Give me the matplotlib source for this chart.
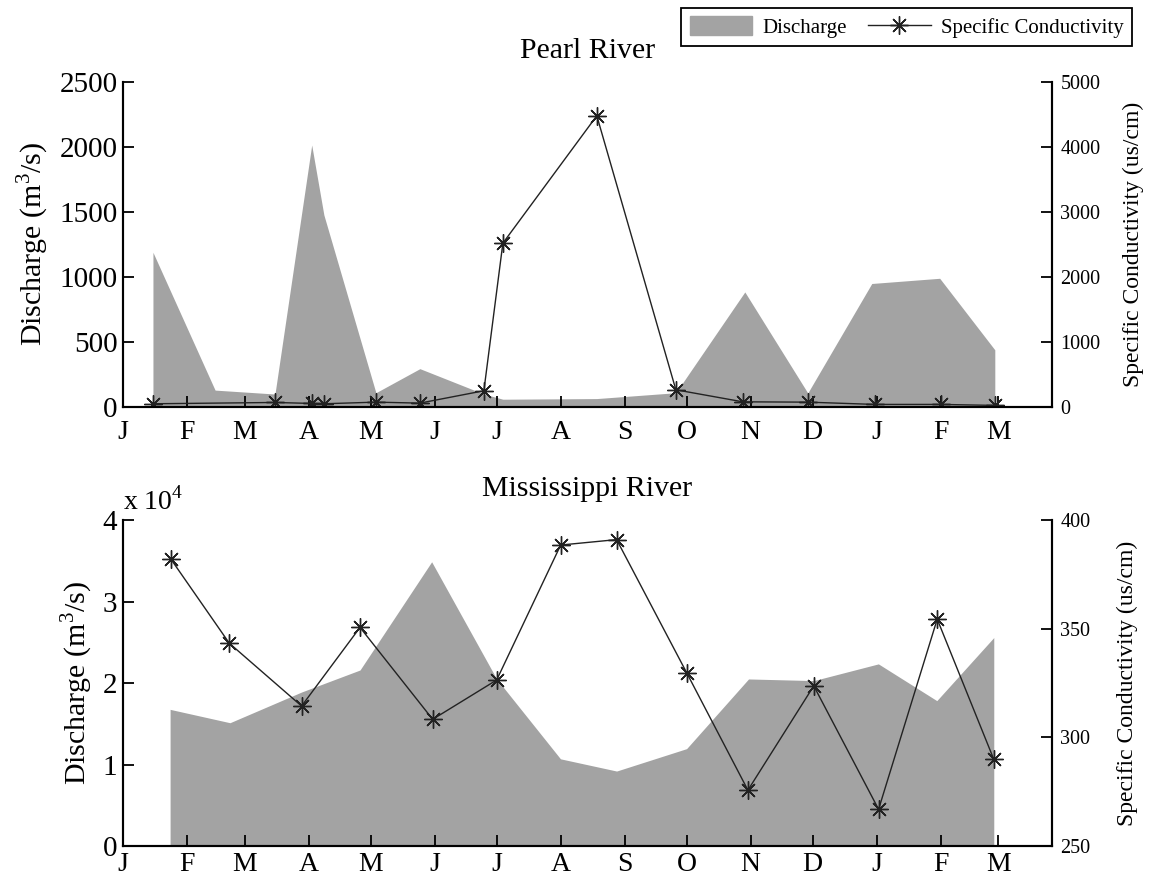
import matplotlib
matplotlib.use('Agg')
import matplotlib.pyplot as plt
import matplotlib.patches as mpatches
from matplotlib.lines import Line2D

plt.rcParams['font.family'] = 'Liberation Serif'
plt.rcParams['mathtext.fontset'] = 'custom'
plt.rcParams['mathtext.rm'] = 'Liberation Serif'

# month start positions (days from 1 Jan) and labels
month_days = [0, 31, 59, 90, 120, 151, 181, 212, 243, 273, 304, 334, 365, 396, 424]
month_labels = ['J', 'F', 'M', 'A', 'M', 'J', 'J', 'A', 'S', 'O', 'N', 'D', 'J', 'F', 'M']

# Pearl River
pearl_q_days = [14.5, 44.6, 73.6, 91.4, 97.3, 122.5, 143.8, 174.8, 184, 229.5, 267.8,
                301.2, 331.7, 362.7, 395.6, 422.3]
pearl_q = [1190, 130, 100, 2015, 1477, 110, 295, 100, 60, 65, 110,
           885, 108, 950, 990, 440]
pearl_sc_days = [14.5, 73.6, 91.4, 97.3, 122.5, 143.8, 174.8, 184, 229.5, 267.8,
                 300.2, 331.7, 364.2, 396.1, 422.3]
pearl_sc = [50, 70, 55, 50, 75, 60, 250, 2520, 4480, 265, 80, 75, 40, 40, 25]

# Mississippi River
miss_q_days = [22.8, 51.8, 86.5, 114.8, 149.5, 181, 211.9, 239.1, 273, 303, 334.6,
               365.9, 394.2, 421.8]
miss_q = [16770, 15130, 18900, 21600, 34880, 20500, 10700, 9200, 11950, 20500, 20300,
          22350, 17840, 25580]
miss_sc_days = [23.2, 51.5, 86.5, 114.8, 150, 181, 212, 239.1, 273, 302.7, 334.6,
                366, 394.4, 421.8]
miss_sc = [382, 343.3, 314.4, 350.6, 308.3, 326.4, 388.5, 391, 329.8, 275.7, 323.7,
           266.9, 354.4, 289.9]

fill_color = '#a3a3a3'
line_color = '#222222'
star = (8, 2, 0)

fig = plt.figure(figsize=(11.53, 8.81), dpi=100)
ax1 = fig.add_axes([0.1067, 0.538, 0.8057, 0.369])
ax2 = fig.add_axes([0.1067, 0.0397, 0.8057, 0.370])


def style_axes(ax, axr, xpad):
    ax.set_xlim(0, 450)
    ax.set_xticks(month_days)
    ax.set_xticklabels(month_labels)
    for a in (ax, axr):
        a.spines['top'].set_visible(False)
        for s in a.spines.values():
            s.set_linewidth(1.5)
    ax.tick_params(axis='both', direction='in', length=8, width=1.3,
                   labelsize=21, pad=4)
    ax.tick_params(axis='x', pad=xpad, labelsize=20)
    axr.tick_params(axis='y', direction='in', length=8, width=1.3,
                    labelsize=14.5, pad=6)


# top panel
ax1.fill_between(pearl_q_days, pearl_q, 0, color=fill_color, lw=0)
ax1.set_ylim(0, 2500)
ax1.set_yticks(range(0, 2501, 500))
ax1.set_ylabel('Discharge (m$^3$/s)', fontsize=21.5, labelpad=6)
ax1.set_title('Pearl River', fontsize=21.5, pad=17)
ax1r = ax1.twinx()
ax1r.plot(pearl_sc_days, pearl_sc, color=line_color, lw=1.0, marker=star,
          ms=13, mew=1.0, mec=line_color)
ax1r.set_ylim(0, 5000)
ax1r.set_yticks(range(0, 5001, 1000))
ax1r.set_ylabel('Specific Conductivity (us/cm)', fontsize=17, labelpad=16)
style_axes(ax1, ax1r, 9)

# bottom panel
ax2.fill_between(miss_q_days, miss_q, 0, color=fill_color, lw=0)
ax2.set_ylim(0, 40000)
ax2.set_yticks([0, 10000, 20000, 30000, 40000])
ax2.set_yticklabels(['0', '1', '2', '3', '4'])
ax2.set_ylabel('Discharge (m$^3$/s)', fontsize=21.5, labelpad=6)
ax2.set_title('Mississippi River', fontsize=21.5, pad=17)
ax2.text(0.0, 1.015, 'x 10$^4$', transform=ax2.transAxes, fontsize=20,
         ha='left', va='bottom')
ax2r = ax2.twinx()
ax2r.plot(miss_sc_days, miss_sc, color=line_color, lw=1.0, marker=star,
          ms=13, mew=1.0, mec=line_color)
ax2r.set_ylim(250, 400)
ax2r.set_yticks([250, 300, 350, 400])
ax2r.set_ylabel('Specific Conductivity (us/cm)', fontsize=17, labelpad=19)
style_axes(ax2, ax2r, 4)

# shared legend
handles = [mpatches.Patch(color=fill_color, label='Discharge'),
           Line2D([], [], color=line_color, lw=1.0, marker=star, ms=13, mew=1.0,
                  label='Specific Conductivity')]
leg = fig.legend(handles=handles, loc='upper right', ncol=2,
                 bbox_to_anchor=(1132 / 1153, 1 - 8 / 881), borderaxespad=0,
                 fontsize=15, frameon=True, fancybox=False, framealpha=1,
                 edgecolor='black', handlelength=3.0, handleheight=1.0,
                 columnspacing=1.0, handletextpad=0.5, borderpad=0.4)
leg.get_frame().set_linewidth(1.3)

fig.savefig('out.png', dpi=100)
